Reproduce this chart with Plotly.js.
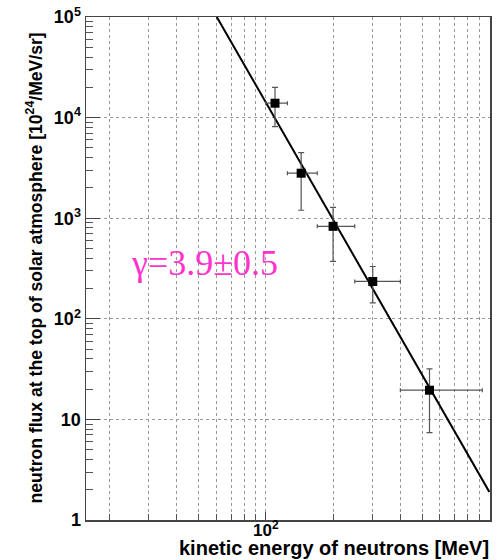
<!DOCTYPE html>
<html>
<head>
<meta charset="utf-8">
<script src="https://cdn.plot.ly/plotly-3.0.1.min.js"></script>
<style>html,body{margin:0;padding:0;background:#fff;}#chart{width:499px;height:560px;}</style>
</head>
<body>
<div id="chart"></div>
<script>
// Measured neutron spectrum points (energy in MeV, flux in 10^24/MeV/sr)
const energy   = [110, 144, 200, 301, 540];
const energyLo = [100, 125, 170, 250, 400];
const energyHi = [125, 170, 250, 400, 930];
const flux     = [13900, 2800, 830, 235, 19.5];
const fluxLo   = [8150, 1200, 372, 144, 7.4];
const fluxHi   = [20000, 4490, 1280, 331, 31.8];

// Power-law fit (gamma = 3.9)
const fitEnergy = [60.4, 1000];
const fitFlux   = [100000, 1.9];

// Tick labels
const xTickVals = [100];
const xTickText = ['<b>10<sup>2</sup></b>'];
const xMinorVals = [20,30,40,50,60,70,80,90,200,300,400,500,600,700,800,900];
const yTickVals = [1, 10, 100, 1000, 10000, 100000];
const yTickText = ['<b>1</b>', '<b>10</b>', '<b>10<sup>2</sup></b>', '<b>10<sup>3</sup></b>', '<b>10<sup>4</sup></b>', '<b>10<sup>5</sup></b>'];
const yMinorVals = [];
for (let d = 1; d < 100000; d *= 10) for (let k = 2; k <= 9; k++) yMinorVals.push(k * d);

const xTitle = '<b>kinetic energy of neutrons [MeV]</b>';
const yTitle = '<b>neutron flux at the top of solar atmosphere [10<sup>24</sup>/MeV/sr]</b>';
const fitLabel = 'γ=3.9±0.5';

const traces = [
  {
    x: fitEnergy, y: fitFlux, mode: 'lines', type: 'scatter',
    line: {color: '#000', width: 2}, hoverinfo: 'skip'
  },
  {
    x: energy, y: flux, mode: 'markers', type: 'scatter',
    marker: {symbol: 'square', size: 9, color: '#000'},
    error_x: {type: 'data', symmetric: false,
      array: energy.map((e, i) => energyHi[i] - e),
      arrayminus: energy.map((e, i) => e - energyLo[i]),
      color: '#555', thickness: 1.2, width: 2},
    error_y: {type: 'data', symmetric: false,
      array: flux.map((f, i) => fluxHi[i] - f),
      arrayminus: flux.map((f, i) => f - fluxLo[i]),
      color: '#555', thickness: 1.2, width: 3}
  }
];

const gridStyle = {gridcolor: '#999', griddash: 'dot', gridwidth: 1};

const layout = {
  width: 499, height: 560,
  margin: {l: 86, r: 9, t: 17, b: 40},
  paper_bgcolor: '#fff', plot_bgcolor: '#fff',
  showlegend: false,
  font: {family: 'Liberation Sans, Arial, sans-serif', color: '#000'},
  xaxis: Object.assign({
    type: 'log', range: [1.196, 3.003],
    tickmode: 'array', tickvals: xTickVals, ticktext: xTickText,
    ticks: 'inside', ticklen: 8, tickcolor: '#444', tickwidth: 1,
    ticklabelstandoff: -6,
    minor: Object.assign({tickmode: 'array', tickvals: xMinorVals, ticks: 'inside', ticklen: 6, tickcolor: '#555', showgrid: true}, gridStyle),
    showgrid: true,
    showline: true, linecolor: '#444', linewidth: 1.5, mirror: true,
    zeroline: false, tickfont: {size: 17}
  }, gridStyle),
  yaxis: Object.assign({
    type: 'log', range: [0, 5],
    tickmode: 'array', tickvals: yTickVals, ticktext: yTickText,
    ticks: 'inside', ticklen: 14, tickcolor: '#444', tickwidth: 1,
    minor: {tickmode: 'array', tickvals: yMinorVals, ticks: 'inside', ticklen: 7, tickcolor: '#555', showgrid: false},
    showgrid: true,
    showline: true, linecolor: '#444', linewidth: 1.5, mirror: true,
    zeroline: false, tickfont: {size: 18}
  }, gridStyle),
  annotations: [
    {text: xTitle, xref: 'paper', yref: 'paper', x: 1, y: 0, xanchor: 'right', yanchor: 'bottom',
     yshift: -40, borderpad: 0, showarrow: false, font: {size: 20, family: 'Liberation Sans, Arial, sans-serif'}},
    {text: yTitle, xref: 'paper', yref: 'paper', x: 0, y: 0.5, xanchor: 'right', yanchor: 'middle',
     xshift: -39, textangle: -90, showarrow: false, font: {size: 17.6, family: 'Liberation Sans, Arial, sans-serif'}},
    {text: fitLabel, xref: 'paper', yref: 'paper', x: (204 - 86) / 404, y: (520 - 263) / 503,
     xanchor: 'center', yanchor: 'middle', showarrow: false,
     font: {size: 36, family: 'Liberation Serif, Times New Roman, serif', color: '#ff33cc'}}
  ]
};

Plotly.newPlot('chart', traces, layout, {displayModeBar: false, staticPlot: true});
</script>
</body>
</html>
